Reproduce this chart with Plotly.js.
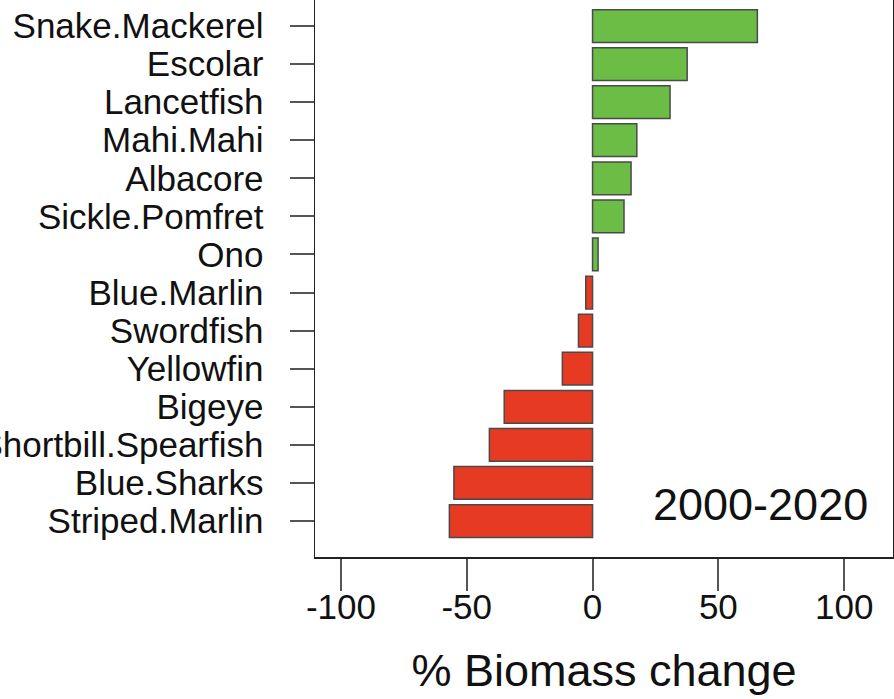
<!DOCTYPE html>
<html>
<head>
<meta charset="utf-8">
<script src="https://cdn.plot.ly/plotly-3.0.1.min.js"></script>
<style>html,body{margin:0;padding:0;background:#fff;}#chart{width:894px;height:699px;}</style>
</head>
<body>
<div id="chart"></div>
<script>
// Species listed top to bottom
var species = ["Snake.Mackerel","Escolar","Lancetfish","Mahi.Mahi","Albacore","Sickle.Pomfret","Ono",
               "Blue.Marlin","Swordfish","Yellowfin","Bigeye","Shortbill.Spearfish","Blue.Sharks","Striped.Marlin"];
var biomassChange = [65.5, 37.6, 30.8, 17.6, 15.3, 12.5, 2.2, -2.7, -5.6, -12.0, -35.1, -41.0, -55.1, -56.9];
var xTickVals = [-100, -50, 0, 50, 100];
var xTickText = ["-100", "-50", "0", "50", "100"];
var periodLabel = "2000-2020";
var xTitle = "% Biomass change";

var posColor = "#6BBD45", negColor = "#E63A23";
var colors = biomassChange.map(function(v){ return v >= 0 ? posColor : negColor; });

var font = "Liberation Sans, Arial, Helvetica, sans-serif";

var trace = {
  type: "bar",
  orientation: "h",
  y: species,
  x: biomassChange,
  width: 0.86,
  marker: {color: colors, line: {color: "#4a4a4a", width: 1.5}},
  hoverinfo: "x+y"
};

var layout = {
  width: 894, height: 699,
  margin: {l: 315, r: 1, t: 0, b: 142, pad: 0},
  paper_bgcolor: "#fff", plot_bgcolor: "#fff",
  showlegend: false,
  font: {family: font, color: "#111", size: 35},
  xaxis: {
    range: [-110.3, 119.4],
    tickmode: "array", tickvals: xTickVals, ticktext: xTickText,
    ticks: "outside", ticklen: 32, tickwidth: 2, tickcolor: "#555",
    ticklabelstandoff: -14,
    showgrid: false, zeroline: false,
    showline: true, mirror: true, linecolor: "#222", linewidth: 1.5,
    tickfont: {family: font, size: 35, color: "#111"},
    title: {text: xTitle, font: {family: font, size: 45, color: "#111"}, standoff: 30}
  },
  yaxis: {
    type: "category",
    categoryorder: "array", categoryarray: species,
    tickmode: "linear", tick0: 0, dtick: 1,
    range: [13.945, -0.683],
    ticks: "outside", ticklen: 24, tickwidth: 2, tickcolor: "#555",
    ticklabelstandoff: 19,
    showgrid: false, zeroline: false,
    showline: true, mirror: true, linecolor: "#222", linewidth: 1.5,
    tickfont: {family: font, size: 35, color: "#111"}
  },
  annotations: [{
    text: periodLabel, xref: "paper", yref: "paper",
    x: 0.770, y: 0.0934, xanchor: "center", yanchor: "middle",
    showarrow: false, font: {family: font, size: 45, color: "#111"}
  }]
};

Plotly.newPlot("chart", [trace], layout, {displayModeBar: false, staticPlot: true});
</script>
</body>
</html>
